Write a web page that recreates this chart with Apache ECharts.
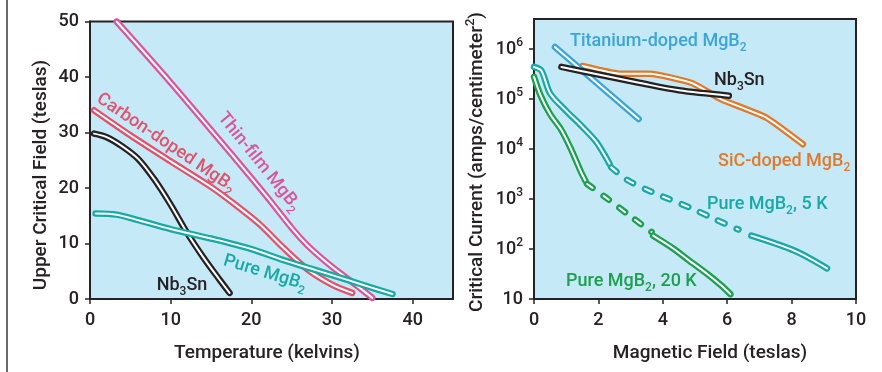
<!DOCTYPE html>
<html>
<head>
<meta charset="utf-8">
<script src="https://cdn.jsdelivr.net/npm/echarts@6/dist/echarts.min.js"></script>
<style>
  html, body { margin: 0; padding: 0; background: #fff; }
  #chart { width: 882px; height: 372px; }
</style>
</head>
<body>
<div id="chart"></div>
<script>
// left panel: upper critical field (T) vs temperature (K)
const tempTicks = [0, 10, 20, 30, 40];
const hcTicks = [0, 10, 20, 30, 40, 50];
const nb3snHc = [[0.5, 29.8], [2, 29.2], [4, 27.5], [6, 25.2], [8, 21.5], [10, 17], [12, 12], [14, 7.6], [16, 3.6], [17.3, 1.1]];
const carbonHc = [[0.5, 34], [5, 29.5], [10, 24.8], [15, 20.2], [18, 17], [21, 13.5], [24, 9.2], [27, 5.3], [30, 2.6], [32.5, 1.1]];
const thinFilmHc = [[3.3, 50], [10, 39], [18, 25.3], [22, 18.3], [25, 12.8], [27, 9.6], [30, 5.8], [33, 2.5], [35, 0.2]];
const pureHc = [[0.7, 15.4], [3.3, 15.2], [6, 14.2], [10, 12.6], [15, 10.9], [20, 9.0], [24, 7.0], [28, 5.2], [32, 3.4], [35, 2.0], [37.5, 0.9]];

// right panel: critical current (A/cm2) vs magnetic field (T)
const bTicks = [0, 2, 4, 6, 8, 10];
const jcTicks = [10, 1e2, 1e3, 1e4, 1e5, 1e6];
const titaniumJc = [[0.65, 1.1e6], [3.25, 4e4]];
const sicJc = [[1.5, 4.6e5], [2.7, 3.2e5], [3.6, 3.2e5], [4.9, 2.1e5], [5.8, 1.0e5], [7.2, 4.3e4], [8.35, 1.25e4]];
const nb3snJc = [[0.85, 4.4e5], [2, 3.1e5], [3.3, 2.1e5], [4.5, 1.5e5], [6.05, 1.17e5]];
const pure5kA = [[0, 4.4e5], [0.23, 3.7e5], [0.5, 1.3e5], [1.0, 5.8e4], [1.5, 2.8e4], [1.95, 1.35e4], [2.35, 5e3]];
const pure5kDash = [[2.4, 4.3e3], [2.9, 2.4e3], [3.7, 1.35e3], [4.9, 650], [5.6, 400], [6.35, 245]];
const pure5kB = [[6.75, 185], [8.1, 92], [9.1, 41]];
const pure20kA = [[0, 2.8e5], [0.2, 1.2e5], [0.5, 5e4], [0.85, 2.4e4], [1.15, 1e4], [1.45, 3.6e3], [1.6, 2.3e3]];
const pure20kDash = [[1.65, 2.0e3], [2.25, 1.05e3], [3.0, 450], [3.65, 220]];
const pure20kB = [[3.7, 185], [4.3, 105], [4.8, 60], [5.4, 31], [5.8, 19], [6.1, 12.5]];

const ink = '#262223';
const font = 'Roboto';

// each curve is drawn as a coloured tube with a white core
function tube(data, color, idx, opts) {
  opts = opts || {};
  const dash = opts.dash || 'solid';
  const base = {
    type: 'line', data: data, xAxisIndex: idx, yAxisIndex: idx,
    showSymbol: false, symbol: 'none', silent: true, animation: false,
    smooth: opts.smooth == null ? 0.3 : opts.smooth
  };
  return [
    Object.assign({}, base, { lineStyle: { color: color, width: 6.5, type: dash, cap: 'round', join: 'round' } }),
    Object.assign({}, base, { lineStyle: { color: '#fff', width: 2, type: dash, cap: 'round', join: 'round' } })
  ];
}

function richFor(color, size) {
  size = size || 18;
  return {
    t: { fill: color, fontSize: size, fontFamily: font, fontWeight: 500, lineHeight: size + 7, verticalAlign: 'middle' },
    s: { fill: color, fontSize: Math.round(size * 0.66), fontFamily: font, fontWeight: 500, verticalAlign: 'bottom' },
    p: { fill: color, fontSize: Math.round(size * 0.66), fontFamily: font, fontWeight: 500, verticalAlign: 'top' }
  };
}
function label(text, x, y, color, deg, align, size) {
  return {
    type: 'text', x: x, y: y, rotation: (deg || 0) * Math.PI / 180, silent: true,
    style: { text: text, align: align || 'center', verticalAlign: 'middle', fill: color, rich: richFor(color, size) }
  };
}

function axis(extra, ticks, margin) {
  return Object.assign({
    axisLine: { show: true, onZero: false, lineStyle: { color: ink, width: 2 } },
    axisTick: { show: true, length: 5, lineStyle: { color: ink, width: 1.5 }, customValues: ticks },
    splitLine: { show: false },
    axisLabel: { color: ink, fontSize: 18, fontWeight: 500, fontFamily: font, margin: margin, customValues: ticks }
  }, extra);
}

const chart = echarts.init(document.getElementById('chart'), null, { renderer: 'canvas' });

const logLabel = axis({}, jcTicks, 11).axisLabel;
logLabel.formatter = v => {
  const e = Math.round(Math.log10(v));
  return e === 1 ? '{t|10}' : '{t|10}{p|' + e + '}';
};
logLabel.rich = richFor(ink, 18);

chart.setOption({
  animation: false,
  backgroundColor: '#fff',
  textStyle: { fontFamily: font },
  grid: [
    { left: 90, top: 21.5, width: 363, height: 277.5, show: true, backgroundColor: '#c6e9f8', borderColor: ink, borderWidth: 2 },
    { left: 534, top: 19, width: 322, height: 280, show: true, backgroundColor: '#c6e9f8', borderColor: ink, borderWidth: 2 }
  ],
  xAxis: [
    axis({ gridIndex: 0, type: 'value', min: 0, max: 45, interval: 10 }, tempTicks, 12),
    axis({ gridIndex: 1, type: 'value', min: 0, max: 10, interval: 2 }, bTicks, 12)
  ],
  yAxis: [
    axis({ gridIndex: 0, type: 'value', min: 0, max: 50, interval: 10 }, hcTicks, 11),
    axis({ gridIndex: 1, type: 'log', logBase: 10, min: 10, max: 4e6, axisLabel: logLabel }, jcTicks, 11)
  ],
  series: [].concat(
    tube(nb3snHc, ink, 0),
    tube(carbonHc, '#e1526c', 0),
    tube(thinFilmHc, '#d9559c', 0),
    tube(pureHc, '#17aaa3', 0),
    tube(sicJc, '#df7a2b', 1, { smooth: 0.15 }),
    tube(titaniumJc, '#3aa5d7', 1, { smooth: 0 }),
    tube(nb3snJc, ink, 1),
    tube(pure5kA, '#18a9a6', 1),
    tube(pure5kDash, '#18a9a6', 1, { dash: [7, 13] }),
    tube(pure5kB, '#18a9a6', 1),
    tube(pure20kA, '#1c9f4f', 1),
    tube(pure20kDash, '#1c9f4f', 1, { dash: [7, 13] }),
    tube(pure20kB, '#1c9f4f', 1)
  ),
  graphic: [
    { type: 'line', silent: true, shape: { x1: 7, y1: 0, x2: 7, y2: 372 }, style: { stroke: '#3a3a3a', lineWidth: 1.5 } },
    // axis titles
    label('{t|Temperature (kelvins)}', 267, 353, ink, 0, 'center', 19),
    label('{t|Magnetic Field (teslas)}', 710, 353, ink, 0, 'center', 19),
    label('{t|Upper Critical Field (teslas)}', 41, 175, ink, 90, 'center', 19),
    label('{t|Critical Current (amps/centimeter}{p|2}{t|)}', 477, 162, ink, 90, 'center', 19),
    // left panel curve names
    label('{t|Carbon-doped MgB}{s|2}', 166, 143, '#e1526c', -34),
    label('{t|Thin-film MgB}{s|2}', 259, 162, '#d9559c', -51),
    label('{t|Pure MgB}{s|2}', 265, 273, '#17aaa3', -17),
    label('{t|Nb}{s|3}{t|Sn}', 182, 285, ink, 0),
    // right panel curve names
    label('{t|Titanium-doped MgB}{s|2}', 570, 41, '#3aa5d7', 0, 'left'),
    label('{t|Nb}{s|3}{t|Sn}', 714, 80, ink, 0, 'left'),
    label('{t|SiC-doped MgB}{s|2}', 718, 161, '#df7a2b', 0, 'left'),
    label('{t|Pure MgB}{s|2}{t|, 5 K}', 707, 204, '#18a9a6', 0, 'left'),
    label('{t|Pure MgB}{s|2}{t|, 20 K}', 566, 281, '#1c9f4f', 0, 'left')
  ]
});
</script>
</body>
</html>
